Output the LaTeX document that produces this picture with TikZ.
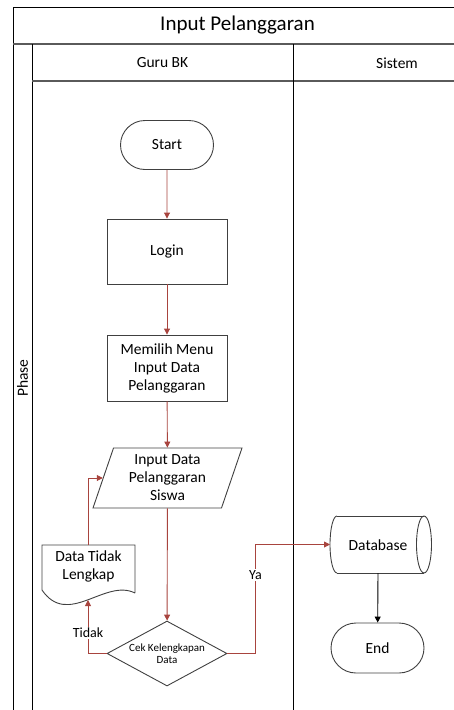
\documentclass[tikz,border=0pt]{standalone}
\usepackage{fontspec}
\setmainfont{Carlito}
\usetikzlibrary{arrows.meta,shapes.geometric,shapes.misc}
\definecolor{flow}{RGB}{168,68,62}
\definecolor{edgegray}{RGB}{64,64,64}
\definecolor{hdrgray}{RGB}{90,90,90}
\begin{document}
\begin{tikzpicture}[x=1pt,y=-1pt,
  font=\fontsize{15.5}{18}\selectfont,
  frame/.style={draw=black,line width=1pt},
  hdr/.style={draw=hdrgray,line width=1.5pt},
  outline/.style={draw=edgegray,line width=0.9pt},
  term/.style={outline,rounded rectangle,minimum width=93pt,minimum height=49pt,inner sep=0pt},
  proc/.style={outline,rectangle,minimum width=120pt,align=center,inner sep=2pt},
  io/.style={outline,trapezium,trapezium left angle=66,trapezium right angle=114,
     trapezium stretches body,minimum width=149pt,minimum height=60pt,inner sep=0pt,align=center},
  decision/.style={outline,diamond,aspect=1.85,minimum width=120pt,minimum height=65pt,inner sep=0pt,
     align=center,font=\fontsize{11}{12.5}\selectfont},
  plain/.style={inner sep=0pt,align=center},
  flowline/.style={draw=flow,line width=0.9pt,-{Triangle[length=6pt,width=6pt]}},
  blackline/.style={draw=black,line width=0.9pt,-{Triangle[length=6pt,width=6pt]}},
  lbl/.style={fill=white,inner sep=1pt,font=\fontsize{14}{16}\selectfont}
]
\useasboundingbox (0,0) rectangle (454,710);
% frame
\draw[frame] (454,7) -- (13,7) -- (13,710);
\draw[hdr] (13,44) -- (454,44);
\draw[frame] (32,44) -- (32,710);
\draw[hdr] (32,81) -- (454,81);
\draw[frame] (293,44) -- (293,710);
\node[plain] (title) at (237.5,25.5) {\fontsize{21}{24}\selectfont Input Pelanggaran};
\node[plain] (lane1) at (162.5,63) {Guru BK};
\node[plain] (lane2) at (397,63) {Sistem};
\node[plain,rotate=90] (phase) at (22.5,378) {Phase};

% nodes
\node[term] (start) at (167,145) {Start};
\node[proc,minimum height=65pt] (login) at (167,251.5) {Login};
\node[proc,minimum height=66pt] (menu) at (167,368) {Memilih Menu\\Input Data\\Pelanggaran};
\node[io] (input) at (167.5,478) {Input Data\\Pelanggaran\\Siswa};
\node[decision] (dec) at (167,653.5) {Cek Kelengkapan\\Data};
\node[term,minimum height=50pt] (end) at (377.5,648) {End};

% document
\node[plain] (doc) at (88.5,566) {Data Tidak\\Lengkap};
\draw[outline] (135,593) -- (135,545) -- (42,545) -- (42,590)
  .. controls (68,628) and (105,578) .. (135,593);
\coordinate (docT) at (88,545);
\coordinate (docB) at (88,600);

% database
\node[plain] (db) at (378,545) {Database};
\draw[outline] (337,516) -- (424,516) (337,573) -- (424,573);
\draw[outline] (424,544.5) ellipse [x radius=7.5, y radius=28.5];
\draw[outline] (337,516) arc[start angle=270, end angle=90, x radius=7, y radius=28.5];
\coordinate (dbW) at (330,544.5);
\coordinate (dbS) at (378,573);

% connectors
\draw[flowline] (start) -- (login);
\draw[flowline] (login) -- (menu);
\draw[flowline] (menu) -- (input);
\draw[flowline] (input) -- (dec);
\draw[flowline] (dec.west) -| node[lbl,pos=0.69] {Tidak} (docB);
\draw[flowline] (docT) |- (input.west);
\draw[flowline] (dec.east) -- ++(28,0) |- node[lbl,pos=0.36] {Ya} (dbW);
\draw[blackline] (dbS) -- (end);
\end{tikzpicture}
\end{document}
